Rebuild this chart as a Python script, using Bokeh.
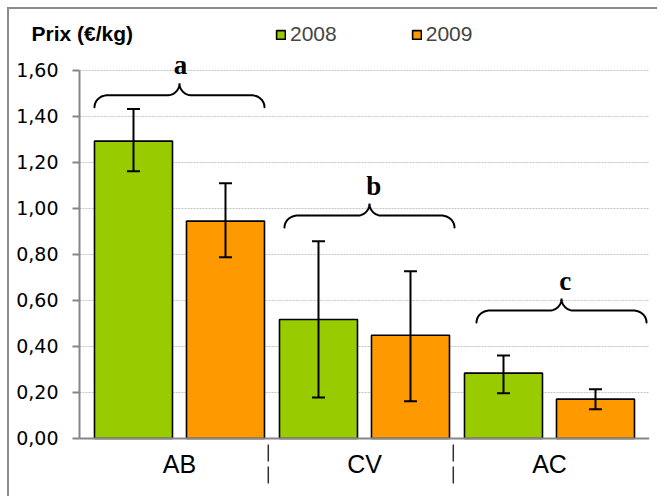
import numpy as np
from bokeh.plotting import figure
from bokeh.models import Range1d, FixedTicker, Label, Legend, LegendItem, ColumnDataSource
from bokeh.core.properties import value
from bokeh.embed import file_html
from bokeh.resources import INLINE

# ---------------- data ----------------
categories = ["AB", "CV", "AC"]
years = ["2008", "2009"]
prix_2008 = [1.293, 0.517, 0.284]
prix_2009 = [0.945, 0.449, 0.171]
err_low_2008 = [1.162, 0.178, 0.197]
err_high_2008 = [1.432, 0.858, 0.361]
err_low_2009 = [0.788, 0.162, 0.127]
err_high_2009 = [1.110, 0.727, 0.214]
group_letters = ["a", "b", "c"]
y_ticks = [0.0, 0.2, 0.4, 0.6, 0.8, 1.0, 1.2, 1.4, 1.6]
y_tick_labels = ["0,00", "0,20", "0,40", "0,60", "0,80", "1,00", "1,20", "1,40", "1,60"]
title_text = "Prix (€/kg)"

# ---------------- layout / style ----------------
green = "#99CC00"
orange = "#FF9900"
axis_grey = "#868686"
PX_X = 185.0   # pixels per category unit
PX_Y = 230.0   # pixels per price unit
axis_x = -0.0405                 # data x of the value axis
left_px = 70                     # pixels of frame left of the value axis
x_start = axis_x - left_px / PX_X
frame_w, frame_h = 640, 477
x_end = x_start + frame_w / PX_X
y_top = 1.839
y_bottom = y_top - frame_h / PX_Y
offset = 46 / PX_X
bar_w = 78 / PX_X
cap = 6.5 / PX_X

centers = np.arange(len(categories)) + 0.5

p = figure(width=650, height=489, output_backend="svg", toolbar_location=None,
           x_range=Range1d(x_start, x_end),
           y_range=Range1d(y_bottom, y_top),
           min_border_left=0, min_border_right=10, min_border_top=6, min_border_bottom=6)
p.styles = {"margin-left": "7px", "margin-top": "7px",
            "border-left": "2px solid #8c8c8c", "border-top": "2px solid #8c8c8c"}
p.outline_line_color = None
p.xaxis.visible = False
p.xgrid.visible = False
p.ygrid.visible = False

ya = p.yaxis[0]
ya.fixed_location = axis_x
ya.ticker = FixedTicker(ticks=y_ticks)
ya.bounds = (0, 1.6)
ya.major_label_overrides = {t: l for t, l in zip(y_ticks, y_tick_labels)}
ya.axis_line_color = axis_grey
ya.axis_line_width = 2
ya.major_tick_line_color = axis_grey
ya.major_tick_line_width = 2
ya.major_tick_out = 7
ya.major_tick_in = 0
ya.minor_tick_line_color = None
ya.major_label_standoff = 14
ya.major_label_text_font = "DejaVu Sans"
ya.major_label_text_font_size = "19px"
ya.major_label_text_color = "black"

# horizontal grid lines from the value axis to the right edge
gl = y_ticks[1:]
p.segment(x0=[axis_x] * len(gl), x1=[x_end] * len(gl), y0=gl, y1=gl,
          line_color="#c4c4c4", line_width=1, line_dash="2 1")

src08 = ColumnDataSource(dict(x=centers - offset, top=prix_2008, lo=err_low_2008, hi=err_high_2008))
src09 = ColumnDataSource(dict(x=centers + offset, top=prix_2009, lo=err_low_2009, hi=err_high_2009))

r08 = p.vbar(x="x", top="top", width=bar_w, bottom=0, source=src08,
             fill_color=green, line_color="black", line_width=1.6)
r09 = p.vbar(x="x", top="top", width=bar_w, bottom=0, source=src09,
             fill_color=orange, line_color="black", line_width=1.6)

for s, xs in ((src08, centers - offset), (src09, centers + offset)):
    p.segment(x0="x", y0="lo", x1="x", y1="hi", source=s, line_color="black", line_width=2)
    lo = s.data["lo"]; hi = s.data["hi"]
    p.segment(x0=list(xs - cap), x1=list(xs + cap), y0=lo, y1=lo, line_color="black", line_width=2)
    p.segment(x0=list(xs - cap), x1=list(xs + cap), y0=hi, y1=hi, line_color="black", line_width=2)

# category axis line at 0
p.segment(x0=[axis_x], x1=[x_end], y0=[0], y1=[0], line_color=axis_grey, line_width=2)

# braces with letters
brace_dx = [0.0, 0.027, 0.065]          # shift of brace centre from group centre
brace_bottom = [1.44, 0.917, 0.504]     # vertical level of brace ends
half_px, h1, h2, r1, r2 = 85, 12, 24, 13, 12


def brace(xc, yb):
    t = np.linspace(0, np.pi / 2, 20)
    lx1 = -half_px + r1 - r1 * np.cos(t)
    ly1 = h1 * np.sin(t)
    lx2 = -r2 + r2 * np.sin(t)
    ly2 = h1 + (h2 - h1) * (1 - np.cos(t))
    lx = np.concatenate([lx1, lx2])
    ly = np.concatenate([ly1, ly2])
    rx = -lx[::-1]
    ry = ly[::-1]
    xs = np.concatenate([lx, rx]) / PX_X + xc
    ys = np.concatenate([ly, ry]) / PX_Y + yb
    return list(xs), list(ys)

bx, by = [], []
for c, dx, yb in zip(centers, brace_dx, brace_bottom):
    xs, ys = brace(c + dx, yb)
    bx.append(xs); by.append(ys)
p.multi_line(xs=bx, ys=by, line_color="black", line_width=2, line_cap="round")

p.text(x=list(centers + np.array([0.005, 0.05, 0.085])),
       y=[b + 42 / PX_Y for b in brace_bottom], text=group_letters,
       text_font=value("Liberation Serif"), text_font_style="bold", text_font_size="27px",
       text_align="center", text_baseline="alphabetic", text_color="black")

# category labels and separators
p.text(x=list(centers), y=[-26 / PX_Y] * len(categories), text=categories,
       text_font=value("Liberation Sans"), text_font_size="25px",
       text_align="center", text_baseline="alphabetic", text_color="black")
seps = [1 - 0.02, 2 - 0.02]
p.segment(x0=seps, x1=seps, y0=[-6 / PX_Y] * 2, y1=[-45 / PX_Y] * 2,
          line_color="#303030", line_width=1.5, line_dash="17 5")

legend = Legend(items=[LegendItem(label=years[0], renderers=[r08]),
                       LegendItem(label=years[1], renderers=[r09])],
                orientation="horizontal", location=(266, 446), padding=0, margin=0,
                spacing=74, label_standoff=4, glyph_width=11, glyph_height=11,
                label_text_font="Liberation Sans", label_text_font_size="21px",
                border_line_color=None, background_fill_alpha=0)
p.add_layout(legend)

p.add_layout(Label(x=x_start + 22 / PX_X, y=(438 - 33) / PX_Y, text=title_text,
                   text_font="Liberation Sans", text_font_style="bold", text_font_size="21px",
                   text_baseline="middle", text_align="left", text_color="black"))

open("out.html", "w").write(file_html(p, INLINE))
